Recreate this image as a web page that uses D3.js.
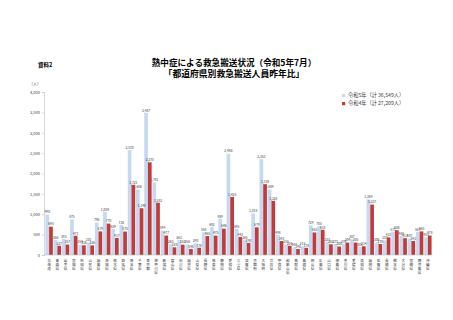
<!DOCTYPE html>
<html>
<head>
<meta charset="utf-8">
<script src="https://cdn.jsdelivr.net/npm/d3@7"></script>
<style>
  body { margin: 0; background: #fff; }
  svg { font-family: "Noto Sans CJK JP", sans-serif; }
</style>
</head>
<body>
<div id="container"></div>
<script>
const prefectures = ['北海道', '青森県', '岩手県', '宮城県', '秋田県', '山形県', '福島県', '茨城県', '栃木県', '群馬県',
  '埼玉県', '千葉県', '東京都', '神奈川県', '新潟県', '富山県', '石川県', '福井県', '山梨県', '長野県',
  '岐阜県', '静岡県', '愛知県', '三重県', '滋賀県', '京都府', '大阪府', '兵庫県', '奈良県', '和歌山県',
  '鳥取県', '島根県', '岡山県', '広島県', '山口県', '徳島県', '香川県', '愛媛県', '高知県', '福岡県',
  '佐賀県', '長崎県', '熊本県', '大分県', '宮崎県', '鹿児島県', '沖縄県'];

const r5 = [990, 366, 393, 875, 254, 310, 796, 1059, 639, 736,
  2570, 1606, 3487, 1781, 599, 265, 363, 256, 290, 558,
  692, 889, 2486, 645, 365, 1018, 2353, 1609, 498, 255,
  189, 215, 729, 705, 325, 271, 276, 387, 201, 1364,
  306, 357, 571, 468, 407, 567, 435];

const r4 = [695, 227, 257, 471, 238, 236, 579, 770, 417, 575,
  1721, 1148, 2275, 1283, 477, 188, 253, 148, 178, 465,
  475, 646, 1425, 442, 298, 679, 1738, 1328, 343, 226,
  146, 176, 553, 618, 263, 208, 304, 305, 214, 1237,
  270, 431, 608, 413, 343, 580, 478];

const seriesNames = ['令和5年（計 36,549人）', '令和4年（計 27,209人）'];
const seriesColors = ['#c6d9f1', '#c23b3b'];
const yTicks = [0, 500, 1000, 1500, 2000, 2500, 3000, 3500, 4000];

const w = 453;
const h = 320;

const svg = d3.select('#container')
  .append('svg')
  .attr('width', w)
  .attr('height', h);

const xScale = d3.scaleBand()
  .domain(prefectures)
  .range([45, 432])
  .paddingInner(0.1)
  .paddingOuter(0.05);

const subScale = d3.scaleBand()
  .domain([0, 1])
  .range([0, xScale.bandwidth()]);

const yScale = d3.scaleLinear()
  .domain([0, 4000])
  .range([255, 92]);

// titles
svg.append('text')
  .attr('x', 234).attr('y', 66)
  .attr('text-anchor', 'middle')
  .style('font-size', '8.6px').style('font-weight', 'bold')
  .text('熱中症による救急搬送状況（令和5年7月）');
svg.append('text')
  .attr('x', 234).attr('y', 77)
  .attr('text-anchor', 'middle')
  .style('font-size', '8.8px').style('font-weight', 'bold')
  .text('「都道府県別救急搬送人員昨年比」');
svg.append('text')
  .attr('x', 38).attr('y', 67)
  .style('font-size', '5.5px').style('font-weight', 'bold')
  .text('資料2');
svg.append('text')
  .attr('x', 35).attr('y', 85.5)
  .attr('text-anchor', 'middle')
  .style('font-size', '4px').style('fill', '#404040')
  .text('（人）');

// y axis
const yAxis = d3.axisLeft(yScale)
  .tickValues(yTicks)
  .tickSize(2)
  .tickPadding(2)
  .tickFormat(d3.format(','));

const yg = svg.append('g')
  .attr('transform', 'translate(44,0)')
  .call(yAxis);
yg.select('.domain').attr('stroke', '#bfbfbf').attr('stroke-width', 0.6);
yg.selectAll('.tick line').attr('stroke', '#bfbfbf').attr('stroke-width', 0.6);
yg.selectAll('.tick text')
  .style('font-size', '4px')
  .style('fill', '#404040')
  .style('font-family', '"Noto Sans CJK JP", sans-serif');

// bars
const series = [r5, r4];
series.forEach((vals, si) => {
  svg.append('g')
    .selectAll('rect')
    .data(vals)
    .enter()
    .append('rect')
    .attr('x', (d, i) => xScale(prefectures[i]) + subScale(si))
    .attr('y', d => yScale(d))
    .attr('width', subScale.bandwidth())
    .attr('height', d => yScale(0) - yScale(d))
    .attr('fill', seriesColors[si]);

  svg.append('g')
    .selectAll('text')
    .data(vals)
    .enter()
    .append('text')
    .attr('x', (d, i) => xScale(prefectures[i]) + subScale(si) + subScale.bandwidth() / 2)
    .attr('y', d => yScale(d) - 1.2)
    .attr('text-anchor', 'middle')
    .style('font-size', '3.3px')
    .style('fill', '#404040')
    .text(d => d3.format(',')(d));
});

// x axis line
svg.append('line')
  .attr('x1', 44).attr('x2', xScale.range()[1])
  .attr('y1', yScale(0)).attr('y2', yScale(0))
  .attr('stroke', '#bfbfbf').attr('stroke-width', 0.6);

// vertical category labels
const labels = svg.append('g')
  .selectAll('text')
  .data(prefectures)
  .enter()
  .append('text')
  .attr('text-anchor', 'middle')
  .style('font-size', '3.6px')
  .style('fill', '#333');

labels.selectAll('tspan')
  .data(d => d.split('').map(c => ({ c, name: d })))
  .enter()
  .append('tspan')
  .attr('x', d => xScale(d.name) + xScale.bandwidth() / 2)
  .attr('y', (d, i) => 261.5 + i * 4.1)
  .text(d => d.c);

// legend
const legend = svg.append('g');
seriesNames.forEach((name, i) => {
  legend.append('rect')
    .attr('x', 342).attr('y', 94 + i * 8)
    .attr('width', 3.2).attr('height', 3.2)
    .attr('fill', seriesColors[i]);
  legend.append('text')
    .attr('x', 348).attr('y', 97.3 + i * 8)
    .style('font-size', '5.2px')
    .style('fill', '#404040')
    .text(name);
});
</script>
</body>
</html>
